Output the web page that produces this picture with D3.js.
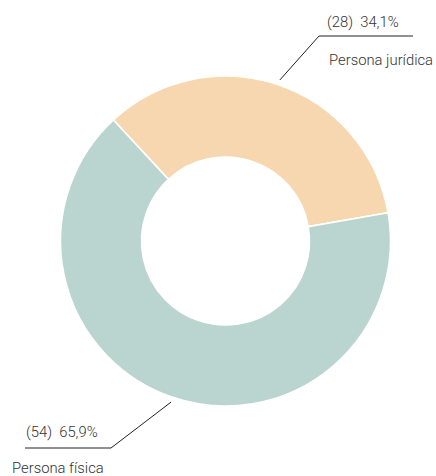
<!DOCTYPE html>
<html>
<head>
<meta charset="utf-8">
<script src="https://cdn.jsdelivr.net/npm/d3@7"></script>
<style>
  html, body { margin: 0; padding: 0; background: #fff; }
  svg text { font-family: Roboto, "Noto Sans", sans-serif; font-size: 14.8px; font-weight: 300; fill: #333; white-space: pre; }
</style>
</head>
<body>
<div id="chart"></div>
<script>
  const categories = ["Persona jurídica", "Persona física"];
  const counts = [28, 54];
  const colors = ["#f7d7af", "#bad4cf"];

  const width = 436;
  const height = 476;
  const cx = 225.5;
  const cy = 241;
  const outerR = 165;
  const innerR = 84;

  const locale = d3.formatLocale({ decimal: ",", thousands: ".", grouping: [3], currency: ["", "€"] });
  const formatPct = locale.format(".1f");
  const total = d3.sum(counts);

  const data = categories.map((c, i) => ({ label: c, count: counts[i], color: colors[i] }));

  const svg = d3.select("#chart").append("svg").attr("width", width).attr("height", height);
  const g = svg.append("g").attr("transform", `translate(${cx},${cy})`);

  const startAngle = (-42.8 * Math.PI) / 180;
  const pie = d3
    .pie()
    .sort(null)
    .value((d) => d.count)
    .startAngle(startAngle)
    .endAngle(startAngle + 2 * Math.PI);
  const arc = d3.arc().innerRadius(innerR).outerRadius(outerR);
  const arcs = pie(data);

  g.selectAll("path")
    .data(arcs)
    .join("path")
    .attr("d", arc)
    .attr("fill", (d) => d.data.color)
    .attr("stroke", "#fff")
    .attr("stroke-width", 1.6);

  // leader lines: start just outside the ring at the slice middle, elbow, then horizontal
  const leaders = [
    { elbow: [93.5, -205], end: 187.5, dir: 1 },
    { elbow: [-114.5, 207], end: -200.5, dir: -1 },
  ];

  arcs.forEach((d, i) => {
    const mid = (d.startAngle + d.endAngle) / 2;
    const r0 = outerR + 5;
    const p0 = [Math.sin(mid) * r0, -Math.cos(mid) * r0];
    const L = leaders[i];
    const pts = [p0, L.elbow, [L.end, L.elbow[1]]];

    g.append("path")
      .attr("d", d3.line()(pts))
      .attr("fill", "none")
      .attr("stroke", "#222")
      .attr("stroke-width", 1);

    const pct = `(${d.data.count})  ${formatPct((d.data.count / total) * 100)}%`;
    if (L.dir > 0) {
      g.append("text").attr("x", L.elbow[0] + 8).attr("y", L.elbow[1] - 9).text(pct);
      g.append("text").attr("x", L.elbow[0] + 10).attr("y", L.elbow[1] + 29).text(d.data.label);
    } else {
      g.append("text").attr("x", L.end + 1).attr("y", L.elbow[1] - 11).text(pct);
      g.append("text").attr("x", L.end - 13).attr("y", L.elbow[1] + 25).text(d.data.label);
    }
  });
</script>
</body>
</html>
